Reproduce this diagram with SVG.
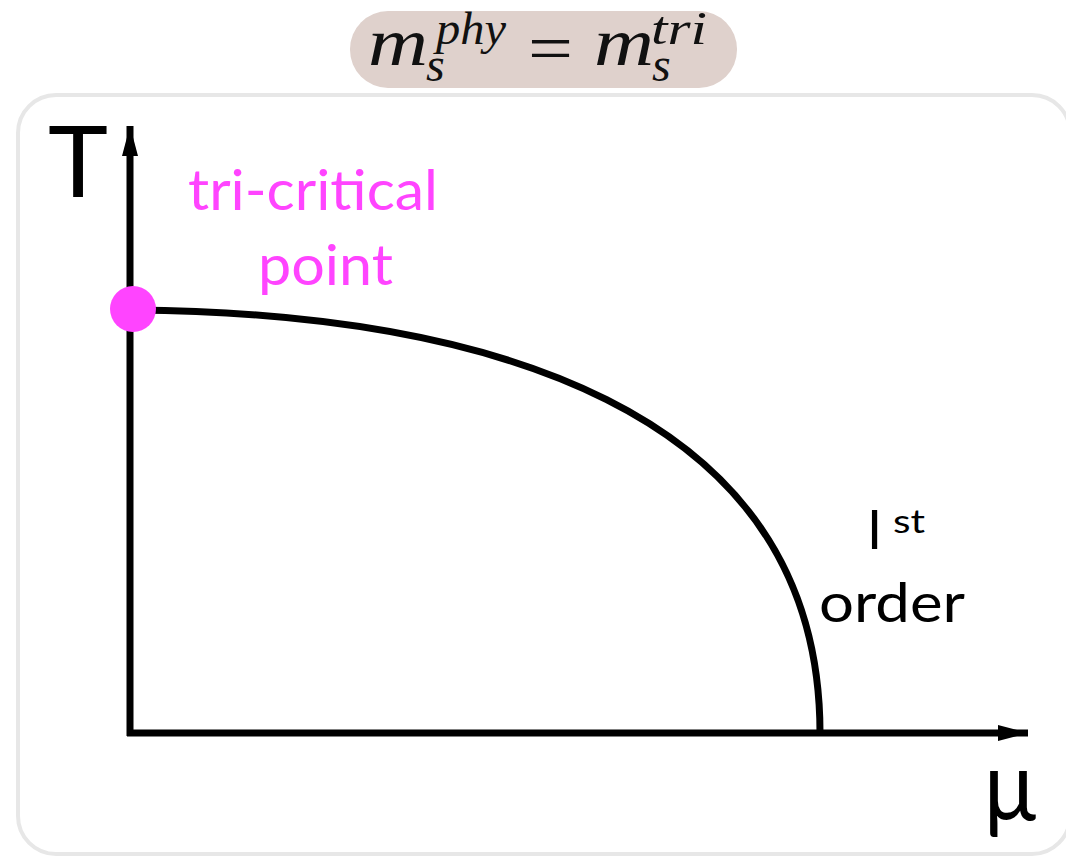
<svg xmlns="http://www.w3.org/2000/svg" width="1066" height="856" viewBox="0 0 1066 856">
<style>
.ax{stroke:#000;stroke-width:7;fill:none}
.lbl{font-family:"Lato","Open Sans",sans-serif;fill:#000}
.mag{font-family:"Lato","Open Sans",sans-serif;fill:#ff44ff;font-size:56px}
.math{font-family:"Liberation Serif",serif;font-style:italic;fill:#111}
</style>
<defs>
<marker id="arr" viewBox="0 0 30 16" refX="30" refY="8" markerWidth="30" markerHeight="16" orient="auto" markerUnits="userSpaceOnUse">
<path d="M0,0 L30,8 L0,16 z" fill="#000"/>
</marker>
</defs>
<rect x="0" y="0" width="1066" height="856" fill="#fff"/>
<rect id="frame" x="18" y="95" width="1052" height="759" rx="38" fill="#fff" stroke="#e7e7e7" stroke-width="4"/>
<g id="title">
<rect x="350" y="11" width="387" height="77" rx="38" fill="#dfd1cc"/>
<text class="math" x="368" y="65" font-size="68" textLength="60" lengthAdjust="spacingAndGlyphs">m</text>
<text class="math" x="436" y="44" font-size="46" textLength="70" lengthAdjust="spacingAndGlyphs">phy</text>
<text class="math" x="426" y="81" font-size="48">s</text>
<text x="528" y="71" font-size="68" font-family="Liberation Serif,serif" fill="#111" textLength="45" lengthAdjust="spacingAndGlyphs">=</text>
<text class="math" x="594" y="65" font-size="68" textLength="60" lengthAdjust="spacingAndGlyphs">m</text>
<text class="math" x="651" y="44" font-size="46" textLength="56" lengthAdjust="spacingAndGlyphs">tri</text>
<text class="math" x="652" y="81" font-size="48">s</text>
</g>
<g id="connectors">
<line class="ax" x1="130" y1="736" x2="130" y2="126" marker-end="url(#arr)"/>
<line class="ax" x1="127" y1="733" x2="1028" y2="733" marker-end="url(#arr)"/>
<path class="ax" d="M133,310 C480,313 820,405 820,733"/>
</g>
<g id="tricritical-point">
<circle cx="133" cy="309" r="23" fill="#ff44ff"/>
<text class="mag" x="188" y="210" textLength="250" lengthAdjust="spacingAndGlyphs">tri-critical</text>
<text class="mag" x="258" y="285" textLength="135" lengthAdjust="spacingAndGlyphs">point</text>
</g>
<g id="axis-T"><text class="lbl" x="48" y="197" font-size="98" font-family="Liberation Sans,sans-serif" textLength="60" lengthAdjust="spacingAndGlyphs">T</text></g>
<g id="axis-mu"><text class="lbl" x="984" y="820" font-size="96" textLength="52" lengthAdjust="spacingAndGlyphs">μ</text></g>
<g id="first-order">
<text class="lbl" x="867" y="549" font-size="54">I</text>
<text class="lbl" x="893" y="533" font-size="32" textLength="32" lengthAdjust="spacingAndGlyphs">st</text>
<text class="lbl" x="819" y="622" font-size="54" textLength="146" lengthAdjust="spacingAndGlyphs">order</text>
</g>
</svg>
